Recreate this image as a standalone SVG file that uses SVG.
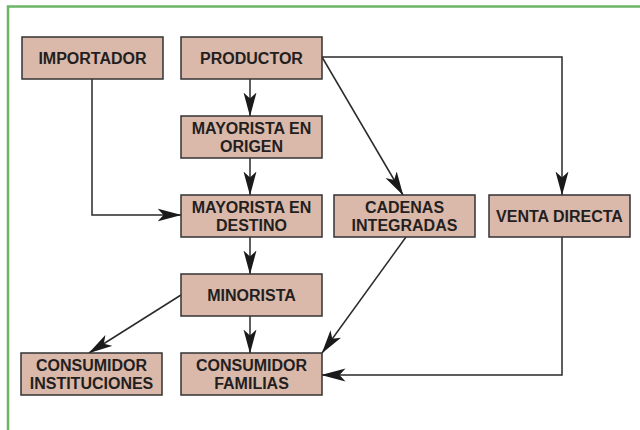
<svg xmlns="http://www.w3.org/2000/svg" width="640" height="430" viewBox="0 0 640 430">
<defs>
<style>
.box{fill:#dab8aa;stroke:#333;stroke-width:1.5}
.lbl{font-family:"Liberation Sans",Arial,sans-serif;font-weight:bold;font-size:16px;fill:#231f20;text-anchor:middle}
.con{fill:none;stroke:#2a2a2a;stroke-width:1.5}
</style>
<marker id="ah" markerUnits="userSpaceOnUse" markerWidth="24" markerHeight="14" viewBox="0 0 24 14" refX="23.5" refY="7" orient="auto">
<path d="M0,0.5 L24,7 L0,13.5 L6,7 Z" fill="#1a1a1a"/>
</marker>
</defs>
<rect width="640" height="430" fill="#fff"/>
<path d="M8,430 V6.5 H640" fill="none" stroke="#6cb466" stroke-width="2.5"/>
<g id="connectors">
<path class="con" d="M92,79 V215 H181" marker-end="url(#ah)"/>
<path class="con" d="M250,79 V116" marker-end="url(#ah)"/>
<path class="con" d="M250,158 V195" marker-end="url(#ah)"/>
<path class="con" d="M250,237 V274" marker-end="url(#ah)"/>
<path class="con" d="M250,316 V353" marker-end="url(#ah)"/>
<path class="con" d="M181,295 L89,353" marker-end="url(#ah)"/>
<path class="con" d="M322,57 H562 V195" marker-end="url(#ah)"/>
<path class="con" d="M322,57 L403,195" marker-end="url(#ah)"/>
<path class="con" d="M406,237 L322,353" marker-end="url(#ah)"/>
<path class="con" d="M562,237 V375 H322" marker-end="url(#ah)"/>
</g>
<g id="importador"><rect class="box" x="22" y="37" width="141" height="42"/><text class="lbl" x="92.5" y="63.5">IMPORTADOR</text></g>
<g id="productor"><rect class="box" x="181" y="37" width="141" height="42"/><text class="lbl" x="251.5" y="63.5">PRODUCTOR</text></g>
<g id="mayorista-origen"><rect class="box" x="181" y="116" width="141" height="42"/><text class="lbl" x="251.5" y="133.5">MAYORISTA EN</text><text class="lbl" x="251.5" y="151.5">ORIGEN</text></g>
<g id="mayorista-destino"><rect class="box" x="181" y="195" width="141" height="42"/><text class="lbl" x="251.5" y="212.5">MAYORISTA EN</text><text class="lbl" x="251.5" y="230.5">DESTINO</text></g>
<g id="cadenas"><rect class="box" x="334" y="195" width="141" height="42"/><text class="lbl" x="404.5" y="212.5">CADENAS</text><text class="lbl" x="404.5" y="230.5">INTEGRADAS</text></g>
<g id="venta-directa"><rect class="box" x="489" y="195" width="141" height="42"/><text class="lbl" x="559.5" y="221.5">VENTA DIRECTA</text></g>
<g id="minorista"><rect class="box" x="181" y="274" width="141" height="42"/><text class="lbl" x="251.5" y="300.5">MINORISTA</text></g>
<g id="consumidor-instituciones"><rect class="box" x="21" y="353" width="141" height="42"/><text class="lbl" x="91.5" y="370.5">CONSUMIDOR</text><text class="lbl" x="91.5" y="388.5">INSTITUCIONES</text></g>
<g id="consumidor-familias"><rect class="box" x="181" y="353" width="141" height="42"/><text class="lbl" x="251.5" y="370.5">CONSUMIDOR</text><text class="lbl" x="251.5" y="388.5">FAMILIAS</text></g>
</svg>
